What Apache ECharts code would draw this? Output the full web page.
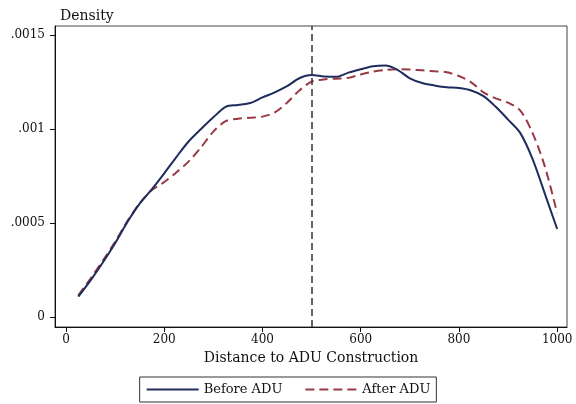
<!DOCTYPE html>
<html>
<head>
<meta charset="utf-8">
<script src="https://cdn.jsdelivr.net/npm/echarts@6/dist/echarts.min.js"></script>
<style>
  html, body { margin: 0; padding: 0; background: #fff; }
  #chart { width: 576px; height: 404px; }
</style>
</head>
<body>
<div id="chart"></div>
<script>
// Kernel density of distance to ADU construction, before vs. after
const distance = [25, 50, 75, 100, 125, 150, 175, 200, 225, 250, 275, 300, 325, 350, 375, 400,
  425, 450, 475, 500, 525, 550, 575, 600, 625, 650, 675, 700, 725, 750, 775, 800,
  825, 850, 875, 900, 925, 950, 975, 1000];

const beforeADU = [0.000108, 0.000195, 0.000290, 0.000392, 0.000505, 0.000603, 0.000680, 0.000764,
  0.000852, 0.000935, 0.001000, 0.001062, 0.001118, 0.001128, 0.001138, 0.001168,
  0.001195, 0.001228, 0.001270, 0.001287, 0.001280, 0.001278, 0.001300, 0.001318,
  0.001334, 0.001338, 0.001315, 0.001270, 0.001245, 0.001232, 0.001222, 0.001218,
  0.001205, 0.001175, 0.001118, 0.001050, 0.000978, 0.000840, 0.000655, 0.000468];

const afterADU = [0.000115, 0.000205, 0.000300, 0.000400, 0.000510, 0.000605, 0.000675, 0.000718,
  0.000770, 0.000828, 0.000903, 0.000986, 0.001042, 0.001055, 0.001060, 0.001066,
  0.001088, 0.001140, 0.001205, 0.001252, 0.001264, 0.001268, 0.001272, 0.001290,
  0.001305, 0.001314, 0.001318, 0.001316, 0.001312, 0.001307, 0.001302, 0.001282,
  0.001248, 0.001195, 0.001163, 0.001140, 0.001098, 0.000978, 0.000800, 0.000552];

const xTicks = [0, 200, 400, 600, 800, 1000];
const yTicks = [0, 0.0005, 0.001, 0.0015];
const cutoff = 500;

const FONT = 'DejaVu Serif';
const NAVY = '#1f2c5c';
const MAROON = '#983a44';

const zip = (xs, ys) => xs.map((x, i) => [x, ys[i]]);
const fmtY = v => {
  if (Math.abs(v) < 1e-12) return '0';
  return String(+v.toFixed(6)).replace(/^0\./, '.');
};
const fmtX = v => String(Math.round(v));

const chart = echarts.init(document.getElementById('chart'), null, { renderer: 'canvas' });

chart.setOption({
  animation: false,
  backgroundColor: '#fff',
  textStyle: { fontFamily: FONT, color: '#111' },
  title: {
    text: 'Density',
    left: 55, top: 4,
    textStyle: { fontFamily: FONT, fontSize: 14, fontWeight: 'normal', color: '#111' }
  },
  grid: {
    left: 55, right: 9, top: 26, bottom: 77,
    show: true, borderColor: '#444', borderWidth: 1, backgroundColor: '#fff'
  },
  legend: {
    bottom: 2, left: 'center',
    data: ['Before ADU', 'After ADU'],
    itemWidth: 52, itemHeight: 12, itemGap: 22,
    itemStyle: { opacity: 0 },
    borderColor: '#333', borderWidth: 1, borderRadius: 0,
    padding: [6, 6, 6, 6],
    textStyle: { fontFamily: FONT, fontSize: 13, color: '#111' }
  },
  xAxis: {
    type: 'value',
    min: -22.4, max: 1020,
    name: 'Distance to ADU Construction',
    nameLocation: 'middle', nameGap: 22,
    nameTextStyle: { fontFamily: FONT, fontSize: 14, color: '#111' },
    splitLine: { show: false },
    axisLine: { show: true, onZero: false, lineStyle: { color: '#111', width: 1 } },
    axisTick: { show: true, length: 5, customValues: xTicks, lineStyle: { color: '#111' } },
    axisLabel: { customValues: xTicks, formatter: fmtX, fontFamily: FONT, fontSize: 12, color: '#111', margin: 7 }
  },
  yAxis: {
    type: 'value',
    min: -0.0000532, max: 0.001548,
    splitLine: { show: false },
    axisLine: { show: true, onZero: false, lineStyle: { color: '#111', width: 1 } },
    axisTick: { show: true, length: 5, customValues: yTicks, lineStyle: { color: '#111' } },
    axisLabel: { customValues: yTicks, formatter: fmtY, fontFamily: FONT, fontSize: 12, color: '#111', margin: 10 }
  },
  series: [
    {
      name: 'Before ADU', type: 'line',
      data: zip(distance, beforeADU),
      smooth: 0.3, symbol: 'none',
      lineStyle: { color: NAVY, width: 2 },
      itemStyle: { color: NAVY },
      markLine: {
        silent: true, symbol: 'none',
        label: { show: false },
        lineStyle: { color: '#333', type: [7, 4], width: 1.5 },
        data: [{ xAxis: cutoff }]
      },
      z: 3
    },
    {
      name: 'After ADU', type: 'line',
      data: zip(distance, afterADU),
      smooth: 0.3, symbol: 'none',
      lineStyle: { color: MAROON, width: 2, type: [9, 5] },
      itemStyle: { color: MAROON },
      z: 2
    }
  ]
});
</script>
</body>
</html>
